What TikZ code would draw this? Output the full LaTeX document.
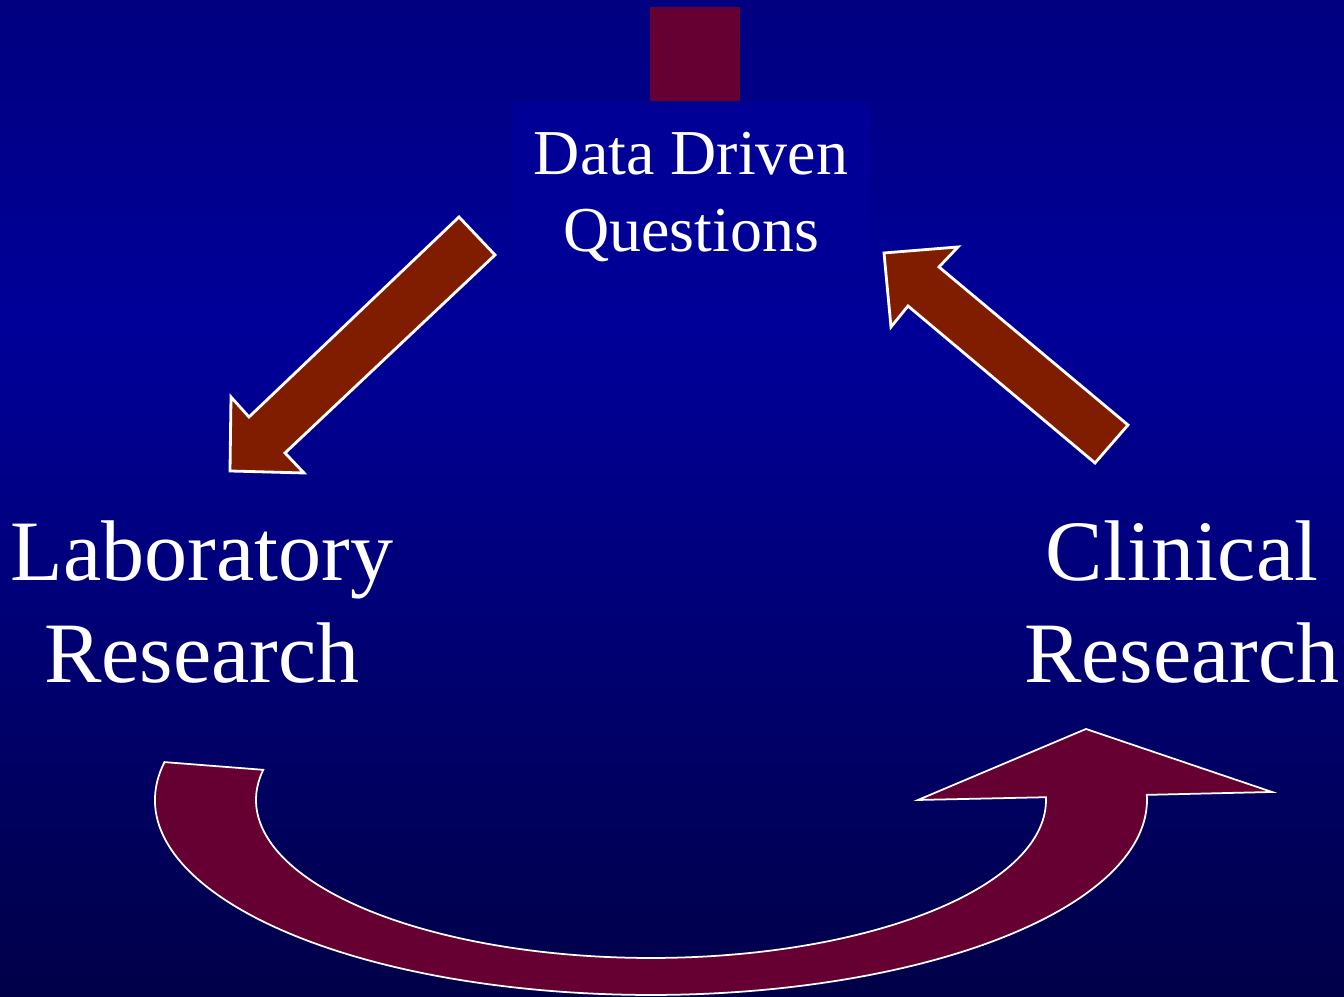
\documentclass[tikz,border=0pt]{standalone}
\usepackage{fontspec}
\setmainfont{Liberation Serif}

\definecolor{slidetop}{RGB}{0,0,128}
\definecolor{slidemid}{RGB}{0,0,153}
\definecolor{slidebot}{RGB}{0,0,72}
\definecolor{boxblue}{RGB}{0,0,150}
\definecolor{brick}{RGB}{128,28,0}
\definecolor{plum}{RGB}{102,0,51}

\tikzset{
	blockarrow/.style={fill=brick, draw=white, line width=0.8pt, line join=miter},
	bentarrow/.style={fill=plum, draw=white, line width=0.5pt},
	bigtext/.style={text=white, align=center, inner sep=0pt, font=\fontsize{24.5}{29}\selectfont},
	smalltext/.style={text=white, align=center, inner sep=0pt, font=\fontsize{18.2}{22}\selectfont},
}

\begin{document}
\begin{tikzpicture}
			\useasboundingbox (0,0) rectangle (13.44,9.97);
			% background
			\shade [top color=slidetop, bottom color=slidemid] (0,6.67) rectangle (13.44,9.97);
			\shade [top color=slidemid, bottom color=slidebot] (0,0) rectangle (13.44,6.67);
			\fill [boxblue] (5.13,7.22) rectangle (8.70,8.94);
			\fill [plum] (6.50,8.96) rectangle (7.40,9.90);
			% labels
			\node [smalltext] (data) at (6.91,8.00) {Data Driven\\Questions};
			\node [bigtext] (lab) at (2.02,3.95) {Laboratory\\Research};
			\node [bigtext] (clin) at (11.82,3.95) {Clinical\\Research};
			% arrows
			\draw [blockarrow] (4.59,7.80) -- (4.95,7.42) -- (2.85,5.44) -- (3.04,5.24) -- (2.30,5.26) -- (2.31,6.00) -- (2.49,5.80) -- cycle;
			\draw [blockarrow] (8.84,7.44) -- (9.58,7.50) -- (9.39,7.30) -- (11.28,5.72) -- (10.95,5.34) -- (9.08,6.91) -- (8.91,6.70) -- cycle;
			\draw [bentarrow] ([shift={(6.51,1.97)}]168.8:4.96 and 1.95)
				arc [start angle=168.8, end angle=361.5, x radius=4.96, y radius=1.95]
				-- (12.72,2.05) -- (10.86,2.68) -- (9.18,1.97)
				-- ([shift={(6.51,1.97)}]1:3.95 and 1.58)
				arc [start angle=361, end angle=169, x radius=3.95, y radius=1.58] -- cycle;
	\end{tikzpicture}
\end{document}
